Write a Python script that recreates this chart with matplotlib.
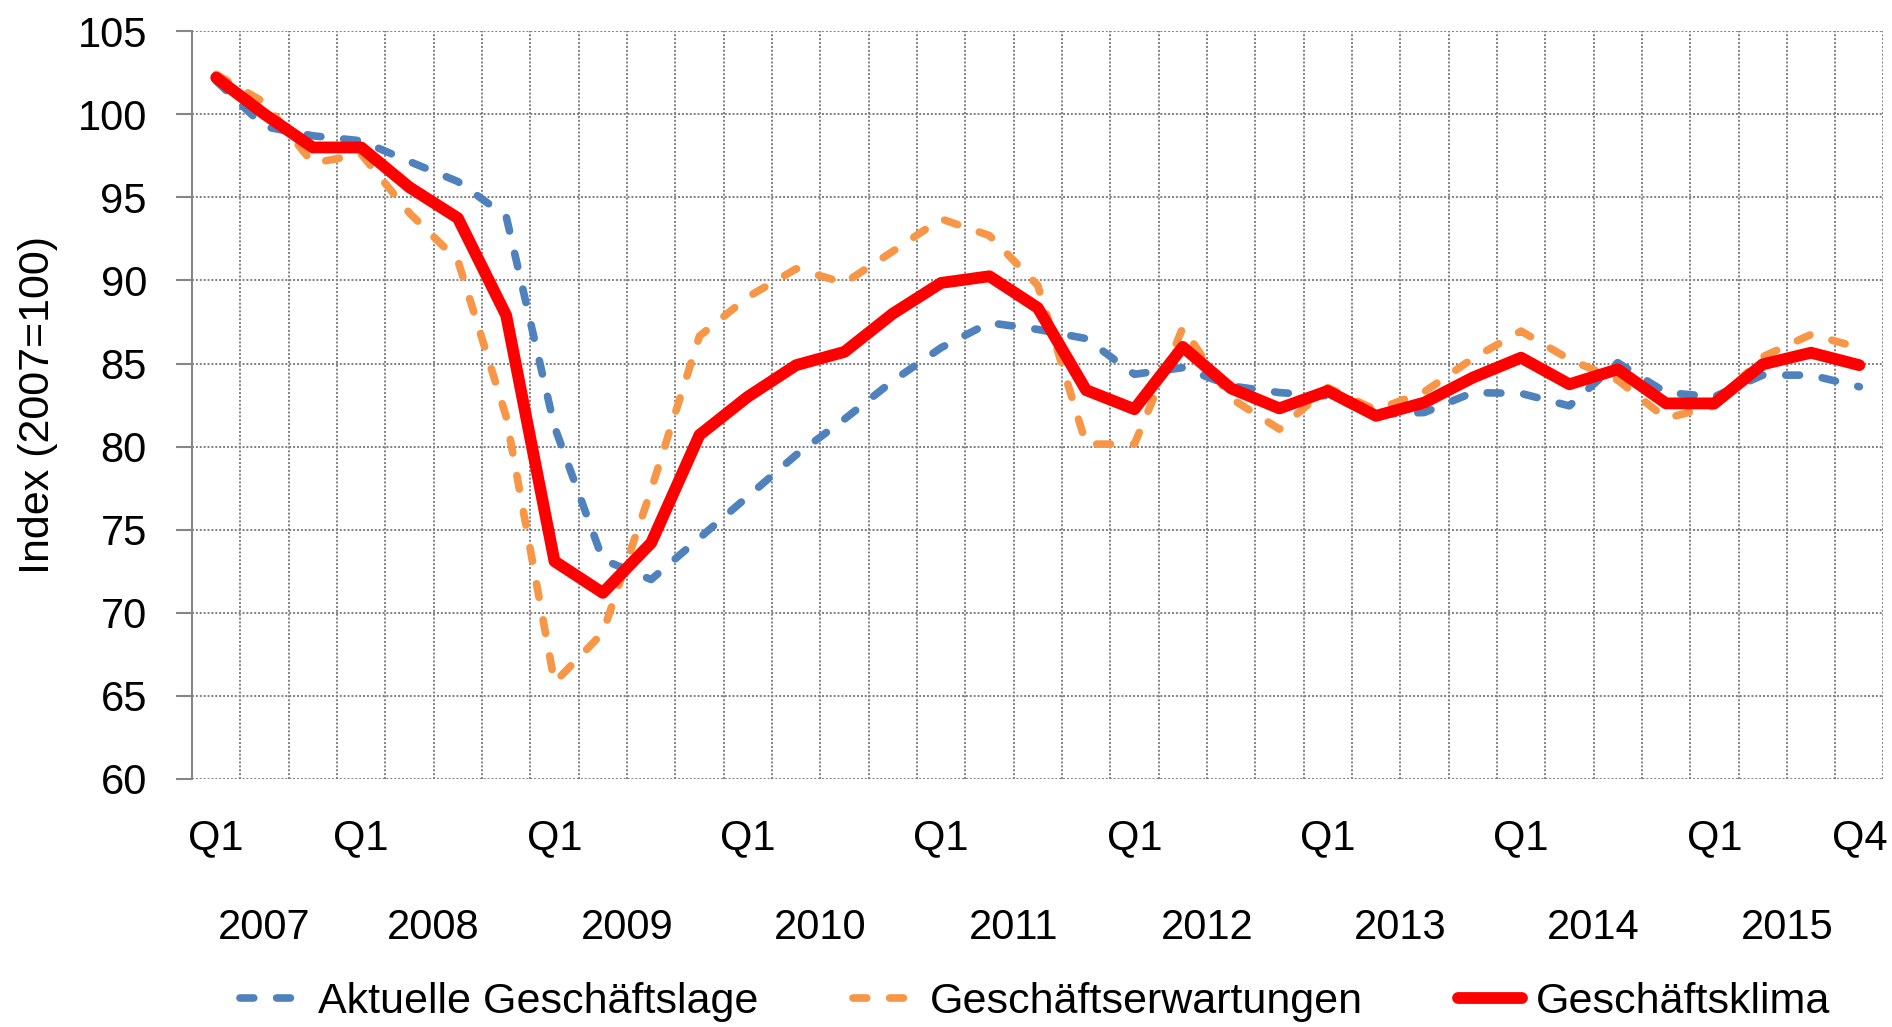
import matplotlib
matplotlib.use("Agg")
import matplotlib.pyplot as plt
import numpy as np

plt.rcParams['font.family'] = ['Liberation Sans', 'DejaVu Sans']

# quarterly index values (2007=100), 2007 has three quarters in the source
years = [2007, 2008, 2009, 2010, 2011, 2012, 2013, 2014, 2015]
quarters_per_year = [3, 4, 4, 4, 4, 4, 4, 4, 4]

lage = [102.0, 99.25, 98.7, 98.4, 97.15, 95.95, 93.85, 81.2, 73.2, 72.0,
        74.5, 77.0, 79.5, 81.65, 83.95, 85.95, 87.45, 87.05, 86.5, 84.35,
        84.75, 83.65, 83.25, 83.05, 81.95, 82.05, 83.25, 83.2, 82.45, 85.05,
        83.25, 83.0, 84.3, 84.3, 83.6]
erwartungen = [102.4, 100.7, 97.05, 97.6, 94.05, 91.2, 81.8, 65.8, 68.8, 77.4,
               86.65, 89.0, 90.7, 89.85, 91.75, 93.7, 92.7, 89.7, 80.15, 80.15,
               87.15, 82.9, 81.05, 83.55, 82.2, 83.3, 85.3, 86.95, 85.25, 84.0,
               81.7, 82.45, 85.4, 86.75, 85.95]
klima = [102.2, 100.0, 98.0, 98.0, 95.6, 93.75, 87.9, 73.1, 71.2, 74.2,
         80.7, 83.0, 84.9, 85.7, 88.0, 89.85, 90.25, 88.35, 83.4, 82.25,
         86.0, 83.5, 82.3, 83.35, 81.85, 82.65, 84.15, 85.35, 83.75, 84.65,
         82.6, 82.6, 84.95, 85.65, 84.9]

series_names = ["Aktuelle Geschäftslage", "Geschäftserwartungen", "Geschäftsklima"]
colors = ["#4F81BD", "#F79646", "#FF0000"]

x = np.arange(len(klima))
starts = np.cumsum([0] + quarters_per_year[:-1])

fig = plt.figure(figsize=(18.92, 10.27), dpi=100)
ax = fig.add_axes([0.1015, 0.2415, 0.894, 0.7282])

dash = (0, (1.8, 3.0))
ax.plot(x, lage, color=colors[0], lw=5.5, linestyle=dash,
        dash_capstyle='round', dash_joinstyle='round', label=series_names[0])
ax.plot(x, erwartungen, color=colors[1], lw=5.5, linestyle=dash,
        dash_capstyle='round', dash_joinstyle='round', label=series_names[1])
ax.plot(x, klima, color=colors[2], lw=8.5, solid_capstyle='round',
        label=series_names[2])

ax.set_xlim(-0.5, len(klima) - 0.5)
ax.set_ylim(60, 105)
ax.set_yticks(np.arange(60, 106, 5))

# quarter labels: Q1 at each year start, Q4 at the end
qticks = list(starts) + [len(klima) - 1]
ax.set_xticks(qticks)
ax.set_xticklabels(["Q1"] * len(starts) + ["Q4"])
ax.set_xticks(np.arange(-0.5, len(klima), 1), minor=True)

for yr, s, n in zip(years, starts, quarters_per_year):
    ax.text(s + (n - 1) / 2, -0.199, str(yr), transform=ax.get_xaxis_transform(),
            ha='center', va='center', fontsize=30)

grid_kw = dict(color='#7F7F7F', linestyle=(0, (1, 1)), linewidth=1.4)
ax.grid(axis='y', which='major', **grid_kw)
ax.grid(axis='x', which='minor', **grid_kw)
ax.grid(axis='x', which='major', visible=False)
ax.set_axisbelow(True)

for side in ['top', 'right', 'bottom']:
    ax.spines[side].set_visible(False)
ax.spines['left'].set_color('#868686')
ax.spines['left'].set_linewidth(1.5)

ax.tick_params(axis='y', length=11.5, width=1.5, color='#868686', pad=21, labelsize=30)
ax.tick_params(axis='x', which='both', length=0, pad=28, labelsize=30)

ax.set_ylabel('Index (2007=100)', fontsize=31)
ax.yaxis.set_label_coords(-0.079, 0.5)

fig.legend(loc='center', bbox_to_anchor=(0.547, 0.0243), ncol=3, frameon=False,
           fontsize=31, handlelength=1.5, handletextpad=0.3, columnspacing=2.2)

fig.savefig('out.png', dpi=100)
